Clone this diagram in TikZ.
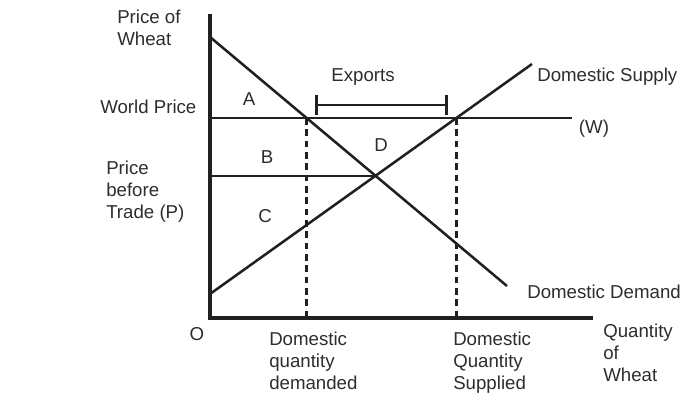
\documentclass[tikz,border=0pt]{standalone}
\usepackage{fontspec}
\setmainfont{Liberation Sans}
\usetikzlibrary{arrows.meta,positioning,calc}
\definecolor{inkgray}{RGB}{35,31,32}
\definecolor{textgray}{RGB}{45,45,45}

\begin{document}
\begin{tikzpicture}[
  x=0.75pt,y=-0.75pt,
  axis/.style={line width=2.4pt,draw=inkgray},
  curve/.style={line width=1.9pt,draw=inkgray},
  guide/.style={line width=2.1pt,draw=inkgray,dash pattern=on 5pt off 3.5pt},
  lbl/.style={inner sep=0pt,font=\fontsize{14}{16.5}\selectfont,text=textgray},
  multi/.style={lbl,align=left,anchor=north west}
]
  \useasboundingbox (0,0) rectangle (682,400);

  % axes
  \coordinate (O) at (210,318);
  \coordinate (ytop) at (210,14);
  \coordinate (xend) at (593,318);
  \draw[axis] (ytop) -- (O) -- (xend);

  % demand, supply and world price
  \coordinate (d1) at (210,37);
  \coordinate (d2) at (507,286);
  \coordinate (s1) at (210,294);
  \coordinate (s2) at (532,64);
  \coordinate (w1) at (210,118);
  \coordinate (w2) at (572,118);
  \draw[curve] (d1) -- (d2);
  \draw[curve] (s1) -- (s2);
  \draw[curve] (w1) -- (w2);

  \coordinate (qd) at (intersection of d1--d2 and w1--w2);
  \coordinate (qs) at (intersection of s1--s2 and w1--w2);
  \coordinate (eq) at (intersection of d1--d2 and s1--s2);
  \draw[curve] (O |- eq) -- (eq);
  \draw[guide] (qd) -- (qd |- O);
  \draw[guide] (qs) -- (qs |- O);

  % exports bracket
  \coordinate (e1) at (315,105);
  \coordinate (e2) at (448,105);
  \draw[curve,{Bar[width=15pt]}-{Bar[width=15pt]}] (e1) -- (e2);

  % labels
  \node[multi] (ylab) at (117,10) {Price of\\Wheat};
  \node[lbl,anchor=north west] (wp) at (100,100) {World Price};
  \node[multi] (pbt) at (106,161) {Price\\before\\Trade (P)};
  \node[lbl] (lA) at (249,99) {A};
  \node[lbl] (lB) at (267,157) {B};
  \node[lbl] (lC) at (265,216) {C};
  \node[lbl] (lD) at (381,145) {D};
  \node[lbl] (lexp) at (363,77) {Exports};
  \node[lbl,anchor=north west] (dsup) at (537,68) {Domestic Supply};
  \node[lbl] (lW) at (594,129) {(W)};
  \node[lbl,anchor=north west] (ddem) at (527,285) {Domestic Demand};
  \node[lbl] (lO) at (197,334) {O};
  \node[multi] (qdlab) at (269,332) {Domestic\\quantity\\demanded};
  \node[multi] (qslab) at (453,332) {Domestic\\Quantity\\Supplied};
  \node[multi] (xlab) at (603,324) {Quantity\\of\\Wheat};
\end{tikzpicture}
\end{document}
